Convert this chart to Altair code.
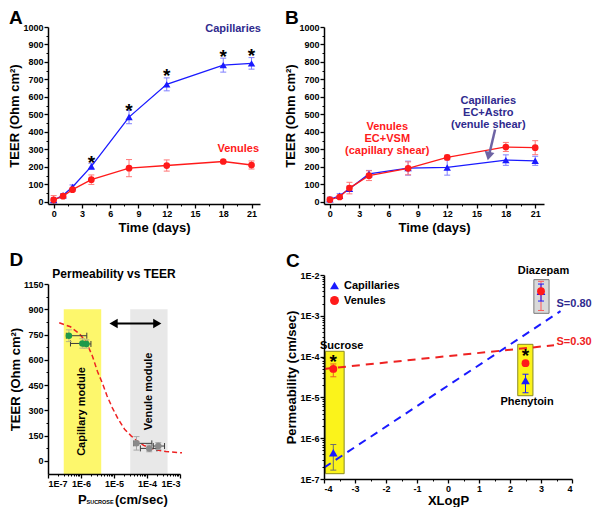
import altair as alt
import pandas as pd

FONT = "Liberation Sans"

BLUE = "#1a1aff"
BLUE_ERR = "#8080ff"
RED = "#ff1a1a"
RED_ERR = "#ff7878"
NAVY = "#2f2a8e"
ARROW_COL = "#6d63a4"
GREEN = "#1f9a4a"
GRAY_PT = "#8a8a8a"
YELLOW_D = "#fdf76c"
GRAY_D = "#e8e8e8"
YELLOW_C = "#fbf31b"
GRAY_C = "#d9d9d9"

# ---------------- shared axis values ----------------
TIME_TICKS = [0, 3, 6, 9, 12, 15, 18, 21]
TIME_LABELS = ["0", "3", "6", "9", "12", "15", "18", "21"]
TIME_MINOR = [1.5, 4.5, 7.5, 10.5, 13.5, 16.5, 19.5]
TEER_TICKS = [0, 100, 200, 300, 400, 500, 600, 700, 800, 900, 1000]
TEER_LABELS = ["0", "100", "200", "300", "400", "500", "600", "700", "800", "900", "1000"]
TEER_MINOR = [50, 150, 250, 350, 450, 550, 650, 750, 850, 950]
LOG_MINOR_MULT = [2, 3, 4, 5, 6, 7, 8, 9]

# ---------------- panel A ----------------
DAYS = [0, 1, 2, 4, 8, 12, 18, 21]
A_CAP = [10, 38, 85, 203, 485, 672, 782, 792]
A_CAP_ERR = [12, 10, 12, 18, 38, 37, 40, 33]
A_VEN = [12, 33, 70, 127, 193, 208, 231, 211]
A_VEN_ERR = [24, 8, 10, 27, 49, 32, 8, 23]
A_STAR_DAYS = [4, 8, 12, 18, 21]
A_STAR_TEER = [250, 548, 750, 858, 862]
A_LABELS = ["Capillaries", "Venules"]
A_LABEL_X = [22.0, 21.8]
A_LABEL_Y = [990, 300]

# ---------------- panel B ----------------
B_CAP = [15, 35, 75, 160, 193, 197, 239, 235]
B_CAP_ERR = [12, 12, 15, 20, 40, 44, 30, 26]
B_VEN = [13, 28, 79, 150, 192, 254, 314, 310]
B_VEN_ERR = [10, 8, 33, 28, 37, 13, 26, 40]
B_CAP_TEXT = ["Capillaries", "EC+Astro", "(venule shear)"]
B_CAP_TEXT_X = [16.2, 16.2, 16.2]
B_CAP_TEXT_Y = [579, 507, 442]
B_VEN_TEXT = ["Venules", "EC+VSM", "(capillary shear)"]
B_VEN_TEXT_X = [5.87, 5.87, 5.87]
B_VEN_TEXT_Y = [428, 357, 291]
B_ARROW_X = [16.9, 16.28]
B_ARROW_Y = [414, 268]
B_HEAD_X = [16.24]
B_HEAD_Y = [262]

# ---------------- panel D ----------------
D_X_TICKS = [1e-7, 1e-6, 1e-5, 1e-4, 1e-3]
D_X_LABELS = ["1E-7", "1E-6", "1E-5", "1E-4", "1E-3"]
D_Y_TICKS = [0, 150, 300, 450, 600, 750, 900, 1050]
D_Y_LABELS = ["0", "150", "300", "450", "600", "750", "900", "1150"]
D_Y_MINOR = [75, 225, 375, 525, 675, 825, 975]
D_CAP_P = [4.3e-7, 1.1e-6, 1.45e-6]
D_CAP_P_LO = [3.6e-7, 4.8e-7, 1.15e-6]
D_CAP_P_HI = [1.5e-6, 1.6e-6, 2.0e-6]
D_CAP_TEER = [743, 697, 694]
D_CAP_TEER_ERR = [35, 28, 25]
D_VEN_P = [4.8e-5, 1.17e-4, 2.2e-4]
D_VEN_P_LO = [4.0e-5, 6.3e-5, 1.55e-4]
D_VEN_P_HI = [1.4e-4, 2.0e-4, 3.4e-4]
D_VEN_TEER = [104, 74, 88]
D_VEN_TEER_ERR = [40, 20, 20]
D_FIT_P = [2.19e-7, 4.79e-7, 8.91e-7, 1.45e-6, 2.24e-6, 3.16e-6, 4.47e-6, 6.17e-6,
           8.91e-6, 1.32e-5, 2.09e-5, 3.24e-5, 5.01e-5, 7.94e-5, 1.58e-4, 3.72e-4, 1.15e-3]
D_FIT_TEER = [820, 796, 755, 705, 620, 530, 460, 385, 315, 250, 188, 150, 118, 92, 70, 55, 48]
D_ZONES = ["Capillary module", "Venule module"]
D_ZONE_LO = [3.0e-7, 3.1e-5]
D_ZONE_HI = [4.1e-6, 4.2e-4]
D_ZONE_TOP = [900, 900]
D_ZONE_TEXT_X = [1.1e-6, 1.14e-4]
D_ZONE_TEXT_Y = [293, 412]
D_ARROW_X = [9.7e-6, 2.05e-4]
D_ARROW_Y = [815, 815]
D_TITLE = ["Permeability vs TEER"]
D_TITLE_X = [1e-5]
D_TITLE_Y = [1110]

# ---------------- panel C ----------------
C_X_TICKS = [-4, -3, -2, -1, 0, 1, 2, 3, 4]
C_X_LABELS = ["-4", "-3", "-2", "-1", "0", "1", "2", "3", "4"]
C_X_MINOR = [-3.5, -2.5, -1.5, -0.5, 0.5, 1.5, 2.5, 3.5]
C_Y_TICKS = [1e-7, 1e-6, 1e-5, 1e-4, 1e-3, 1e-2]
C_Y_LABELS = ["1E-7", "1E-6", "1E-5", "1E-4", "1E-3", "1E-2"]
C_DRUGS = ["Sucrose", "Phenytoin", "Diazepam"]
C_XLOGP = [-3.7, 2.5, 3.0]
C_CAP = [4.4e-7, 2.6e-5, 4.0e-3]
C_CAP_LO = [1.65e-7, 1.3e-5, 2.3e-3]
C_CAP_HI = [7.0e-7, 3.7e-5, 6.0e-3]
C_CAP_ERRCOL = ["#6e6e6e", BLUE, BLUE]
C_VEN = [5.0e-5, 6.9e-5, 4.0e-3]
C_VEN_LO = [3.2e-5, 6.2e-5, 1.35e-3]
C_VEN_HI = [6.6e-5, 7.6e-5, 7.0e-3]
C_VEN_ERRCOL = ["#ee5a24", "#ee5a24", "#ff5a5a"]
C_BOX_X_LO = [-3.95, 2.25, 2.77]
C_BOX_X_HI = [-3.35, 2.74, 3.26]
C_BOX_Y_LO = [1.35e-7, 1.1e-5, 1.15e-3]
C_BOX_Y_HI = [1.35e-4, 2.0e-4, 7.7e-3]
C_BOX_FILL = [YELLOW_C, YELLOW_C, GRAY_C]
C_BOX_EDGE = ["#8a8a20", "#8a8a20", "#7a7a7a"]
C_DRUG_TEXT_X = [-3.43, 2.55, 3.08]
C_DRUG_TEXT_Y = [1.86e-4, 7.8e-6, 1.27e-2]
C_STAR_X = [-3.7, 2.5]
C_STAR_Y = [9.7e-5, 1.35e-4]
C_FIT_X = [-4.0, 3.63, -4.0, 3.42]
C_FIT_Y = [1.9e-7, 1.3e-3, 5.0e-5, 1.9e-4]
C_FIT_GRP = ["cap", "cap", "ven", "ven"]
C_S_TEXT = ["S=0.80", "S=0.30"]
C_S_X = [3.5, 3.5]
C_S_Y = [2.0e-3, 2.34e-4]


# ---------------- helpers ----------------
def lexpr(vals, labels):
    e = "''"
    for v, l in zip(reversed(vals), reversed(labels)):
        e = f"datum.value == {v!r} ? '{l}' : ({e})"
    return e


AXC = dict(domainColor="black", domainWidth=1.5, tickColor="black", tickWidth=1.3,
           grid=False, labelFont=FONT, labelFontWeight="bold", labelColor="black",
           labelFontSize=9, titleFont=FONT, titleFontWeight="bold", titleColor="black",
           titleFontSize=13)


def major_axis(vals, labels, title, orient, title_pad=3):
    return alt.Axis(orient=orient, values=vals, labelExpr=lexpr(vals, labels), title=title,
                    tickSize=4, labelPadding=1, titlePadding=title_pad, zindex=1, **AXC)


def minor_axis(vals, orient):
    return alt.Axis(orient=orient, values=vals, labels=False, domain=False, title=None,
                    tickSize=2, tickColor="black", tickWidth=1, grid=False, zindex=1)


def X(f, s):
    return alt.X(f"{f}:Q", scale=s, axis=None)


def Y(f, s):
    return alt.Y(f"{f}:Q", scale=s, axis=None)


def vbars(df, xs, ys, x="x", lo="lo", hi="hi", col="ecol", cap=36, w=1.0):
    st = alt.Stroke(f"{col}:N", scale=None)
    rule = alt.Chart(df).mark_rule(strokeWidth=w).encode(x=X(x, xs), y=Y(lo, ys), y2=alt.Y2(f"{hi}:Q"), stroke=st)
    c1 = alt.Chart(df).mark_point(shape="stroke", size=cap, strokeWidth=w, opacity=1).encode(x=X(x, xs), y=Y(lo, ys), stroke=st)
    c2 = alt.Chart(df).mark_point(shape="stroke", size=cap, strokeWidth=w, opacity=1).encode(x=X(x, xs), y=Y(hi, ys), stroke=st)
    return [rule, c1, c2]


def hbars(df, xs, ys, y="y", lo="xlo", hi="xhi", col="hcol", cap=36, w=1.0):
    st = alt.Stroke(f"{col}:N", scale=None)
    rule = alt.Chart(df).mark_rule(strokeWidth=w).encode(x=X(lo, xs), x2=alt.X2(f"{hi}:Q"), y=Y(y, ys), stroke=st)
    c1 = alt.Chart(df).mark_point(shape="stroke", angle=90, size=cap, strokeWidth=w, opacity=1).encode(x=X(lo, xs), y=Y(y, ys), stroke=st)
    c2 = alt.Chart(df).mark_point(shape="stroke", angle=90, size=cap, strokeWidth=w, opacity=1).encode(x=X(hi, xs), y=Y(y, ys), stroke=st)
    return [rule, c1, c2]


def with_axes(layers, xs, ys, xmaj, ymaj, xmin, ymin, probe):
    main = alt.Chart(probe).mark_point(opacity=0).encode(
        x=alt.X("x:Q", scale=xs, axis=xmaj), y=alt.Y("y:Q", scale=ys, axis=ymaj))
    minor = alt.Chart(probe).mark_point(opacity=0).encode(
        x=alt.X("x:Q", scale=xs, axis=xmin), y=alt.Y("y:Q", scale=ys, axis=ymin))
    return alt.layer(*layers, main, minor).resolve_axis(x="independent", y="independent")


def letter(t, offset):
    return alt.TitleParams(text=t, anchor="start", frame="bounds", fontSize=19, fontWeight="bold",
                           font=FONT, color="black", offset=offset)


# ---------------- panels A & B ----------------
AW, BW, TH = 212, 220, 177


def teer_panel(cap, cap_err, ven, ven_err, extra, title, width):
    xs = alt.Scale(domain=[-0.6, 21.9], nice=False, zero=False)
    ys = alt.Scale(domain=[-12, 1000], nice=False, zero=False)
    n = len(DAYS)
    vals = cap + ven
    errs = cap_err + ven_err
    df = pd.DataFrame({
        "x": DAYS + DAYS, "y": vals,
        "lo": [v - e for v, e in zip(vals, errs)], "hi": [v + e for v, e in zip(vals, errs)],
        "col": [BLUE] * n + [RED] * n, "ecol": [BLUE_ERR] * n + [RED_ERR] * n,
        "shp": ["triangle-up"] * n + ["circle"] * n, "sz": [55] * n + [45] * n})
    line = alt.Chart(df).mark_line(strokeWidth=1.3).encode(
        x=X("x", xs), y=Y("y", ys), stroke=alt.Stroke("col:N", scale=None))
    pts = alt.Chart(df).mark_point(filled=True, opacity=1).encode(
        x=X("x", xs), y=Y("y", ys), fill=alt.Fill("col:N", scale=None),
        shape=alt.Shape("shp:N", scale=None), size=alt.Size("sz:Q", scale=None))
    layers = vbars(df, xs, ys) + [line, pts] + extra(xs, ys)
    probe = pd.DataFrame({"x": [10], "y": [500]})
    ch = with_axes(layers, xs, ys,
                   major_axis(TIME_TICKS, TIME_LABELS, "Time (days)", "bottom"),
                   major_axis(TEER_TICKS, TEER_LABELS, "TEER (Ohm cm²)", "left", title_pad=1),
                   minor_axis(TIME_MINOR, "bottom"), minor_axis(TEER_MINOR, "left"), probe)
    return ch.properties(width=width, height=TH, title=title)


def extra_A(xs, ys):
    stars = pd.DataFrame({"x": A_STAR_DAYS, "y": A_STAR_TEER, "t": ["*"] * len(A_STAR_DAYS)})
    lab = pd.DataFrame({"x": A_LABEL_X, "y": A_LABEL_Y, "t": A_LABELS, "c": [NAVY, RED]})
    return [
        alt.Chart(stars).mark_text(fontSize=19, fontWeight="bold", font=FONT, color="black", baseline="middle", dy=5).encode(
            x=X("x", xs), y=Y("y", ys), text="t:N"),
        alt.Chart(lab).mark_text(fontSize=11, fontWeight="bold", font=FONT, align="right", baseline="middle").encode(
            x=X("x", xs), y=Y("y", ys), text="t:N", fill=alt.Fill("c:N", scale=None)),
    ]


def extra_B(xs, ys):
    capt = pd.DataFrame({"x": B_CAP_TEXT_X, "y": B_CAP_TEXT_Y, "t": B_CAP_TEXT})
    vent = pd.DataFrame({"x": B_VEN_TEXT_X, "y": B_VEN_TEXT_Y, "t": B_VEN_TEXT})
    arr = pd.DataFrame({"x": [B_ARROW_X[0]], "y": [B_ARROW_Y[0]], "x2": [B_ARROW_X[1]], "y2": [B_ARROW_Y[1]]})
    head = pd.DataFrame({"x": B_HEAD_X, "y": B_HEAD_Y})
    return [
        alt.Chart(vent).mark_text(fontSize=11, fontWeight="bold", font=FONT, color=RED, baseline="middle").encode(
            x=X("x", xs), y=Y("y", ys), text="t:N"),
        alt.Chart(capt).mark_text(fontSize=11, fontWeight="bold", font=FONT, color=NAVY, baseline="middle").encode(
            x=X("x", xs), y=Y("y", ys), text="t:N"),
        alt.Chart(arr).mark_rule(strokeWidth=2.5, color=ARROW_COL).encode(
            x=X("x", xs), y=Y("y", ys), x2="x2:Q", y2="y2:Q"),
        alt.Chart(head).mark_point(shape="triangle-down", filled=True, size=100, angle=12, color=ARROW_COL, opacity=1).encode(
            x=X("x", xs), y=Y("y", ys)),
    ]


panelA = teer_panel(A_CAP, A_CAP_ERR, A_VEN, A_VEN_ERR, extra_A, letter("A", -5), AW)
panelB = teer_panel(B_CAP, B_CAP_ERR, B_VEN, B_VEN_ERR, extra_B, letter("B", -5), BW)

# ---------------- panel D ----------------
DW, DH = 132, 190
xsD = alt.Scale(type="log", domain=[1e-7, 1e-3], nice=False)
ysD = alt.Scale(domain=[-78, 1050], nice=False, zero=False)

zones = pd.DataFrame({"lo": D_ZONE_LO, "hi": D_ZONE_HI, "top": D_ZONE_TOP,
                      "fillc": [YELLOW_D, GRAY_D], "t": D_ZONES, "tx": D_ZONE_TEXT_X, "ty": D_ZONE_TEXT_Y})
d_rects = alt.Chart(zones).mark_rect().encode(
    x=X("lo", xsD), x2="hi:Q", y=Y("top", ysD), y2=alt.value(DH), fill=alt.Fill("fillc:N", scale=None))
d_ztext = alt.Chart(zones).mark_text(angle=270, fontSize=11, fontWeight="bold", font=FONT, color="black", baseline="middle").encode(
    x=X("tx", xsD), y=Y("ty", ysD), text="t:N")
fit = pd.DataFrame({"x": D_FIT_P, "y": D_FIT_TEER})
d_fit = alt.Chart(fit).mark_line(strokeDash=[5, 3], strokeWidth=1.5, color="#ee2222").encode(x=X("x", xsD), y=Y("y", ysD))
dpts = pd.DataFrame({
    "x": D_CAP_P + D_VEN_P, "y": D_CAP_TEER + D_VEN_TEER,
    "xlo": D_CAP_P_LO + D_VEN_P_LO, "xhi": D_CAP_P_HI + D_VEN_P_HI,
    "lo": [v - e for v, e in zip(D_CAP_TEER + D_VEN_TEER, D_CAP_TEER_ERR + D_VEN_TEER_ERR)],
    "hi": [v + e for v, e in zip(D_CAP_TEER + D_VEN_TEER, D_CAP_TEER_ERR + D_VEN_TEER_ERR)],
    "col": [GREEN] * 3 + [GRAY_PT] * 3, "ecol": ["#b9b982"] * 3 + ["#a8a8a8"] * 3, "hcol": ["#3c3c3c"] * 6})
d_pts = alt.Chart(dpts).mark_point(filled=True, opacity=1, size=42).encode(
    x=X("x", xsD), y=Y("y", ysD), fill=alt.Fill("col:N", scale=None))
darr = pd.DataFrame({"x": [D_ARROW_X[0]], "x2": [D_ARROW_X[1]], "y": [D_ARROW_Y[0]]})
dheads = pd.DataFrame({"x": D_ARROW_X, "y": D_ARROW_Y, "s": ["triangle-left", "triangle-right"]})
d_arr = alt.Chart(darr).mark_rule(strokeWidth=2, color="black").encode(x=X("x", xsD), x2="x2:Q", y=Y("y", ysD))
d_heads = alt.Chart(dheads).mark_point(filled=True, size=90, color="black", opacity=1).encode(
    x=X("x", xsD), y=Y("y", ysD), shape=alt.Shape("s:N", scale=None))
dtitle = pd.DataFrame({"x": D_TITLE_X, "y": D_TITLE_Y, "t": D_TITLE})
d_title = alt.Chart(dtitle).mark_text(fontSize=12, fontWeight="bold", font=FONT, color="black", baseline="middle").encode(
    x=X("x", xsD), y=Y("y", ysD), text="t:N")
XT = dict(fontWeight="bold", font=FONT, color="black", align="left", baseline="alphabetic")
d_xt1 = alt.Chart(dtitle).mark_text(fontSize=13, **XT).encode(x=alt.value(30), y=alt.value(DH + 30), text=alt.value("P"))
d_xt2 = alt.Chart(dtitle).mark_text(fontSize=5.5, **XT).encode(x=alt.value(38.5), y=alt.value(DH + 30), text=alt.value("SUCROSE"))
d_xt3 = alt.Chart(dtitle).mark_text(fontSize=13, **XT).encode(x=alt.value(67), y=alt.value(DH + 30), text=alt.value("(cm/sec)"))

d_layers = ([d_rects, d_ztext, d_fit] + hbars(dpts, xsD, ysD) + vbars(dpts, xsD, ysD) +
            [d_pts, d_arr, d_heads, d_title, d_xt1, d_xt2, d_xt3])
D_X_MINOR = [m * d for d in D_X_TICKS[:-1] for m in LOG_MINOR_MULT]
panelD = with_axes(d_layers, xsD, ysD,
                   major_axis(D_X_TICKS, D_X_LABELS, None, "bottom"),
                   major_axis(D_Y_TICKS, D_Y_LABELS, "TEER (Ohm cm²)", "left", title_pad=1),
                   minor_axis(D_X_MINOR, "bottom"), minor_axis(D_Y_MINOR, "left"),
                   pd.DataFrame({"x": [1e-5], "y": [500]})).properties(width=DW, height=DH, title=letter("D", -2))

# ---------------- panel C ----------------
CW, CH = 248, 204
xsC = alt.Scale(domain=[-4, 4], nice=False, zero=False)
ysC = alt.Scale(type="log", domain=[1e-7, 1e-2], nice=False)

boxes = pd.DataFrame({"x": C_BOX_X_LO, "x2": C_BOX_X_HI, "y": C_BOX_Y_LO, "y2": C_BOX_Y_HI,
                      "f": C_BOX_FILL, "e": C_BOX_EDGE})
c_boxes = alt.Chart(boxes).mark_rect(strokeWidth=1).encode(
    x=X("x", xsC), x2="x2:Q", y=Y("y", ysC), y2="y2:Q",
    fill=alt.Fill("f:N", scale=None), stroke=alt.Stroke("e:N", scale=None))
cfit = pd.DataFrame({"x": C_FIT_X, "y": C_FIT_Y, "g": C_FIT_GRP,
                     "c": [BLUE, BLUE, "#ee2222", "#ee2222"]})
c_fit = alt.Chart(cfit).mark_line(strokeDash=[8, 6], strokeWidth=2).encode(
    x=X("x", xsC), y=Y("y", ysC), detail="g:N", stroke=alt.Stroke("c:N", scale=None))
cerr = pd.DataFrame({"x": C_XLOGP + C_XLOGP, "lo": C_VEN_LO + C_CAP_LO, "hi": C_VEN_HI + C_CAP_HI,
                     "ecol": C_VEN_ERRCOL + C_CAP_ERRCOL})
cpts = pd.DataFrame({"x": C_XLOGP + C_XLOGP, "y": C_CAP + C_VEN,
                     "grp": ["Capillaries"] * 3 + ["Venules"] * 3, "sz": [75] * 3 + [62] * 3})
leg = alt.Legend(orient="top-left", title=None, labelFont=FONT, labelFontSize=11, labelFontWeight="bold",
                 labelColor="black", symbolSize=80, offset=5, padding=0, rowPadding=3, labelOffset=4,
                 symbolStrokeWidth=0)
c_pts = alt.Chart(cpts).mark_point(filled=True, opacity=1).encode(
    x=X("x", xsC), y=Y("y", ysC),
    color=alt.Color("grp:N", scale=alt.Scale(domain=["Capillaries", "Venules"], range=[BLUE, RED]), legend=leg),
    shape=alt.Shape("grp:N", scale=alt.Scale(domain=["Capillaries", "Venules"], range=["triangle-up", "circle"]), legend=leg),
    size=alt.Size("sz:Q", scale=None))
cstar = pd.DataFrame({"x": C_STAR_X, "y": C_STAR_Y, "t": ["*"] * len(C_STAR_X)})
c_star = alt.Chart(cstar).mark_text(fontSize=19, fontWeight="bold", font=FONT, color="black", baseline="middle", dy=5).encode(
    x=X("x", xsC), y=Y("y", ysC), text="t:N")
cdrug = pd.DataFrame({"x": C_DRUG_TEXT_X, "y": C_DRUG_TEXT_Y, "t": C_DRUGS})
c_drug = alt.Chart(cdrug).mark_text(fontSize=11, fontWeight="bold", font=FONT, color="black", baseline="middle").encode(
    x=X("x", xsC), y=Y("y", ysC), text="t:N")
cs = pd.DataFrame({"x": C_S_X, "y": C_S_Y, "t": C_S_TEXT, "c": [NAVY, "#ee2222"]})
c_s = alt.Chart(cs).mark_text(fontSize=11, fontWeight="bold", font=FONT, align="left", baseline="middle").encode(
    x=X("x", xsC), y=Y("y", ysC), text="t:N", fill=alt.Fill("c:N", scale=None))

C_Y_MINOR = [m * d for d in C_Y_TICKS[:-1] for m in LOG_MINOR_MULT]
c_layers = [c_boxes, c_fit] + vbars(cerr, xsC, ysC) + [c_pts, c_star, c_drug, c_s]
panelC = with_axes(c_layers, xsC, ysC,
                   major_axis(C_X_TICKS, C_X_LABELS, "XLogP", "bottom", title_pad=1),
                   major_axis(C_Y_TICKS, C_Y_LABELS, "Permeability (cm/sec)", "left", title_pad=1),
                   minor_axis(C_X_MINOR, "bottom"), minor_axis(C_Y_MINOR, "left"),
                   pd.DataFrame({"x": [0], "y": [1e-4]})).properties(width=CW, height=CH, title=letter("C", -6))

left = alt.vconcat(panelA, panelD, spacing=16)
right = alt.vconcat(panelB, panelC, spacing=17).resolve_scale(
    color="independent", shape="independent").resolve_legend(color="independent", shape="independent")
chart = alt.hconcat(left, right, spacing=23).resolve_scale(
    color="independent", shape="independent").resolve_legend(color="independent", shape="independent").properties(
    padding={"left": 0, "top": 0, "right": 0, "bottom": 0}
).configure(font=FONT).configure_view(strokeWidth=0)

chart.save("out.html", embed_options={"renderer": "svg", "actions": False})
